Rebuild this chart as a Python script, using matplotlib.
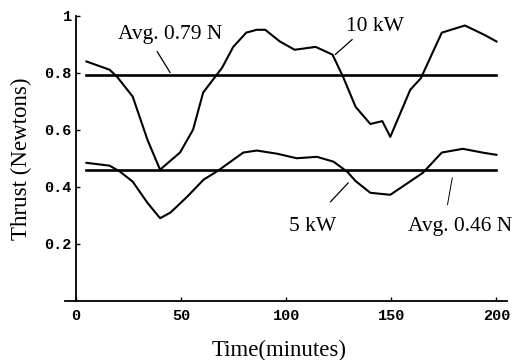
import matplotlib
matplotlib.use("Agg")
import matplotlib.pyplot as plt

# 10 kW thruster curve (time in minutes, thrust in N)
t10 = [5, 16, 19.5, 27, 34, 40, 49.5, 55.7, 60.5, 69.5, 74.8, 81, 86, 90, 97, 104,
       114, 122, 127, 133, 140, 145.7, 149.5, 159, 164, 174, 185, 194, 200]
v10 = [0.839, 0.81, 0.786, 0.716, 0.565, 0.46, 0.52, 0.60, 0.73, 0.817, 0.89, 0.94,
       0.95, 0.95, 0.909, 0.88, 0.89, 0.863, 0.786, 0.68, 0.62, 0.63, 0.575, 0.74,
       0.78, 0.94, 0.965, 0.933, 0.909]

# 5 kW thruster curve
t5 = [5, 16, 21, 27, 34, 40, 45, 53, 60.7, 67.5, 79.6, 86, 95.6, 105, 114.6, 122.5,
      129, 133, 140, 149.5, 165, 174, 184, 194, 200]
v5 = [0.484, 0.474, 0.453, 0.418, 0.344, 0.29, 0.31, 0.366, 0.425, 0.456, 0.52,
      0.527, 0.516, 0.50, 0.505, 0.488, 0.453, 0.42, 0.379, 0.372, 0.449, 0.52,
      0.533, 0.519, 0.512]

avg_t = [5, 200]
avg10 = 0.79
avg5 = 0.46

xticks = [0, 50, 100, 150, 200]
xticklabels = ["0", "50", "100", "150", "200"]
yticks = [0.2, 0.4, 0.6, 0.8, 1.0]
yticklabels = ["0.2", "0.4", "0.6", "0.8", "1"]

fig = plt.figure(figsize=(5.23, 3.6), dpi=100)
ax = fig.add_axes([65 / 523, 1 - 301 / 360, (507 - 65) / 523, (301 - 15.5) / 360])

ax.plot(t10, v10, color="black", lw=1.5)
ax.plot(t5, v5, color="black", lw=1.5)
ax.plot(avg_t, [avg10, avg10], color="black", lw=1.9)
ax.plot(avg_t, [avg5, avg5], color="black", lw=1.9)

ax.set_xlim(-5.2, 205)
ax.set_ylim(0, 1.0)

for s in ["top", "right"]:
    ax.spines[s].set_visible(False)
ax.spines["left"].set_position(("data", 0))
ax.spines["left"].set_linewidth(1.3)
ax.spines["bottom"].set_linewidth(1.3)

ax.set_xticks(xticks)
ax.set_xticklabels(xticklabels)
ax.set_yticks(yticks)
ax.set_yticklabels(yticklabels)
ax.tick_params(axis="both", direction="in", length=3, width=1, labelsize=11)
ax.tick_params(axis="x", pad=6)
ax.tick_params(axis="y", pad=3)
for lab in ax.get_xticklabels() + ax.get_yticklabels():
    lab.set_fontfamily("Liberation Mono")
    lab.set_fontweight("bold")

serif = "Liberation Serif"
ax.set_xlabel("Time(minutes)", fontfamily=serif, fontsize=16.5)
ax.xaxis.set_label_coords(0.484, -0.135, transform=ax.transAxes)
ax.set_ylabel("Thrust (Newtons)", fontfamily=serif, fontsize=16.5)
ax.yaxis.set_label_coords(-0.075, 0.5, transform=ax.transAxes)

txt = dict(fontfamily=serif, fontsize=15.5, ha="center", va="center")
ax.text(44.8, 0.933, "Avg. 0.79 N", **txt)
ax.text(142.4, 0.961, "10 kW", **txt)
ax.text(112.4, 0.26, "5 kW", **txt)
ax.text(182.9, 0.26, "Avg. 0.46 N", **txt)

ap = dict(arrowstyle="-", color="black", lw=0.9, shrinkA=0, shrinkB=0)
ax.annotate("", xy=(44.8, 0.80), xytext=(38.6, 0.874), arrowprops=ap)
ax.annotate("", xy=(123.3, 0.863), xytext=(131.4, 0.916), arrowprops=ap)
ax.annotate("", xy=(129.5, 0.414), xytext=(121, 0.347), arrowprops=ap)
ax.annotate("", xy=(179, 0.432), xytext=(176.7, 0.337),
            arrowprops=dict(ap, lw=0.7))

fig.savefig("out.png", dpi=100)
